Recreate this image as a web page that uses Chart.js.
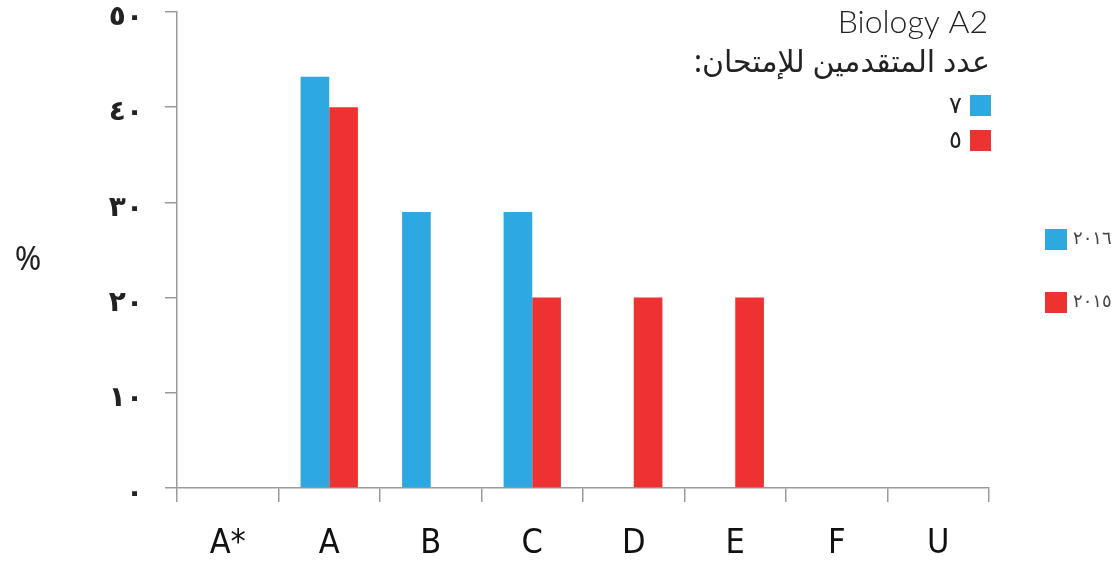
<!DOCTYPE html>
<html>
<head>
<meta charset="utf-8">
<script src="https://cdn.jsdelivr.net/npm/chart.js@4.4.1/dist/chart.umd.min.js"></script>
<style>
  html, body { margin: 0; padding: 0; background: #ffffff; }
  #wrap { width: 1116px; height: 561px; position: relative; }
</style>
</head>
<body>
<div id="wrap"><canvas id="c" width="1116" height="561"></canvas></div>
<script>
const categories = ['A*', 'A', 'B', 'C', 'D', 'E', 'F', 'U'];
const series2016 = [0, 43.2, 29, 29, 0, 0, 0, 0];
const series2015 = [0, 40, 0, 20, 20, 20, 0, 0];
const yTickValues = [0, 10, 20, 30, 40, 50];
const yTickLabels = ['٠', '١٠', '٢٠', '٣٠', '٤٠', '٥٠'];
const seriesNames = ['٢٠١٦', '٢٠١٥'];
const candidateCounts = ['٧', '٥'];
const titleText = 'Biology A2';
const subtitleText = 'عدد المتقدمين للإمتحان:';
const yAxisLabel = '%';

const BLUE = '#2ea8e1';
const RED = '#ee3131';
const AXIS = '#9a9a9a';

const annotations = {
  id: 'annotations',
  afterDraw(chart) {
    const ctx = chart.ctx;
    ctx.save();
    ctx.fillStyle = '#222';
    ctx.textBaseline = 'middle';
    // y label
    ctx.font = '32px "Noto Sans", "DejaVu Sans", sans-serif';
    ctx.textAlign = 'center';
    ctx.fillText(yAxisLabel, 28, 261);
    // title
    ctx.font = '300 32px "Lato", "Noto Sans", sans-serif';
    ctx.textAlign = 'right';
    ctx.fillText(titleText, 988, 23);
    ctx.direction = 'rtl';
    ctx.font = '30px "Noto Sans", "DejaVu Sans", sans-serif';
    ctx.textAlign = 'right';
    ctx.fillText(subtitleText, 990, 63);
    ctx.direction = 'ltr';
    // candidate counts legend
    const cols = [BLUE, RED];
    const ys = [105, 140];
    ctx.font = '24px "Noto Sans", "DejaVu Sans", sans-serif';
    for (let i = 0; i < 2; i++) {
      ctx.fillStyle = cols[i];
      ctx.fillRect(970, ys[i] - 10, 21, 21);
      ctx.fillStyle = '#222';
      ctx.textAlign = 'right';
      ctx.fillText(candidateCounts[i], 962, ys[i] + 1);
    }
    // series legend
    const ys2 = [239, 302];
    ctx.font = '18px "Noto Sans", "DejaVu Sans", sans-serif';
    for (let i = 0; i < 2; i++) {
      ctx.fillStyle = cols[i];
      ctx.fillRect(1045, ys2[i] - 10, 22, 21);
      ctx.fillStyle = '#444';
      ctx.textAlign = 'left';
      ctx.fillText(seriesNames[i], 1073, ys2[i]);
    }
    ctx.restore();
  }
};

new Chart(document.getElementById('c'), {
  type: 'bar',
  data: {
    labels: categories,
    datasets: [
      { label: seriesNames[0], data: series2016, backgroundColor: BLUE, borderWidth: 0,
        categoryPercentage: 0.565, barPercentage: 1.0 },
      { label: seriesNames[1], data: series2015, backgroundColor: RED, borderWidth: 0,
        categoryPercentage: 0.565, barPercentage: 1.0 }
    ]
  },
  options: {
    responsive: false,
    devicePixelRatio: 1,
    animation: false,
    layout: { padding: { top: 12, right: 127, bottom: 0, left: 0 } },
    plugins: { legend: { display: false }, tooltip: { enabled: false } },
    scales: {
      x: {
        grid: { display: true, drawOnChartArea: false, drawTicks: true, tickLength: 14,
                color: AXIS, lineWidth: 1.5, offset: true },
        border: { display: true, color: AXIS, width: 1.5 },
        ticks: { color: '#111', padding: 22,
                 font: { family: '"Liberation Sans Narrow", "DejaVu Sans Condensed", sans-serif', size: 34 } },
        afterFit(scale) { scale.height = 73; scale.paddingLeft = 0; scale.paddingRight = 0; }
      },
      y: {
        min: 0, max: 50,
        afterBuildTicks(scale) { scale.ticks = yTickValues.map(v => ({ value: v })); },
        grid: { display: true, drawOnChartArea: false, drawTicks: true, tickLength: 12,
                color: AXIS, lineWidth: 1.5 },
        border: { display: true, color: AXIS, width: 1.5 },
        ticks: {
          color: '#222', padding: 22, labelOffset: 6,
          font: { family: '"DejaVu Sans", "Noto Sans", sans-serif', size: 28, weight: 'bold' },
          callback(value) { const i = yTickValues.indexOf(value); return i >= 0 ? yTickLabels[i] : ''; }
        },
        afterFit(scale) { scale.width = 177; scale.paddingTop = 0; scale.paddingBottom = 0; }
      }
    }
  },
  plugins: [annotations]
});
</script>
</body>
</html>
